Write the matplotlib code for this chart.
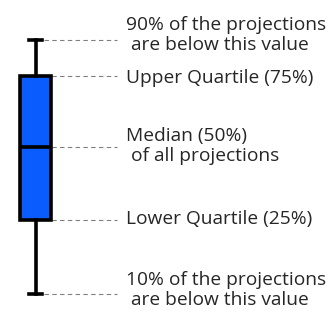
import matplotlib
matplotlib.use("Agg")
import matplotlib.pyplot as plt

# schematic box plot: whisker low, q1, median, q3, whisker high
stat_names = ["whislo", "q1", "med", "q3", "whishi"]
stat_values = [0.0, 2.0, 3.97, 5.9, 6.86]

labels = [
    "10% of the projections\n are below this value",
    "Lower Quartile (25%)",
    "Median (50%)\n of all projections",
    "Upper Quartile (75%)",
    "90% of the projections\n are below this value",
]
label_y = [0.1, 2.03, 4.0, 5.84, 7.0]

plt.rcParams['font.family'] = ['Open Sans', 'DejaVu Sans']

fig = plt.figure(figsize=(3.36, 3.11), dpi=100)
ax = fig.add_axes([0, 0, 1, 1])

stats = dict(zip(stat_names, stat_values))
stats["fliers"] = []
ax.bxp([stats], positions=[35.5], widths=[31], capwidths=[13],
       patch_artist=True, showfliers=False,
       boxprops=dict(facecolor='#0a5cff', edgecolor='black', linewidth=2.6),
       medianprops=dict(color='black', linewidth=2.6),
       whiskerprops=dict(color='black', linewidth=2.6),
       capprops=dict(color='black', linewidth=2.6))

# dashed guides from each level to its label
for v in stat_values:
    ax.plot([44, 117], [v, v], color='#808080', linewidth=0.8,
            linestyle=(0, (4, 3)), zorder=0)

for txt, y in zip(labels, label_y):
    ax.text(126, y, txt, fontsize=13.8, color='#262626', va='center',
            ha='left', linespacing=1.15)

ax.set_xlim(0, 336)
ax.set_ylim(-0.46, 7.95)
ax.axis('off')

fig.savefig("out.png", dpi=100)
